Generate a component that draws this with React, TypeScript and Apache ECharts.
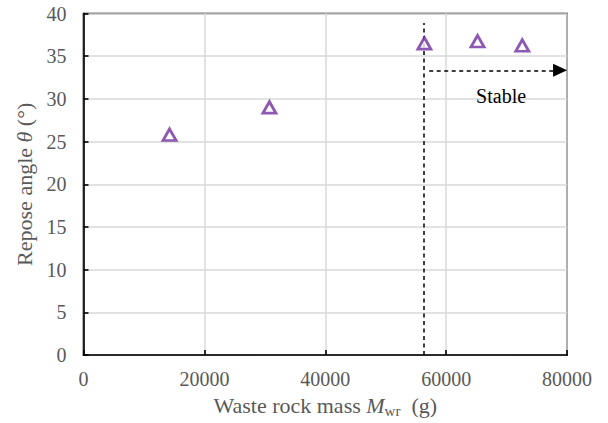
import React, { useEffect, useRef } from "react";
import * as echarts from "echarts";

// Waste rock mass (g) and the measured repose angle (°)
const massValues: number[] = [14240, 30760, 56400, 65200, 72600];
const angleValues: number[] = [25.8, 29.0, 36.5, 36.75, 36.25];

// Threshold mass where the pile becomes stable
const stableMass = 56300;
const stableArrowY = 33.35;
const stableLabel = "Stable";

const xTicks = { min: 0, max: 80000, interval: 20000 };
const yTicks = { min: 0, max: 40, interval: 5 };

const SERIF = "Times New Roman";
const TEXT_GRAY = "#595959";

export default function App() {
  const ref = useRef<HTMLDivElement>(null);

  useEffect(() => {
    if (!ref.current) return;
    const chart = echarts.init(ref.current, undefined, { renderer: "svg" });

    const points = massValues.map((m, i) => [m, angleValues[i]]);

    chart.setOption({
      animation: false,
      backgroundColor: "#fff",
      textStyle: { fontFamily: SERIF },
      grid: {
        left: 83.5,
        right: 41,
        top: 13.5,
        bottom: 67,
        show: true,
        borderColor: "#000",
        borderWidth: 1.6,
        containLabel: false,
      },
      xAxis: {
        type: "value",
        min: xTicks.min,
        max: xTicks.max,
        interval: xTicks.interval,
        name: "{t|Waste rock mass }{i|M}{s|wr}{t|  (g)}",
        nameLocation: "middle",
        nameGap: 36,
        nameTextStyle: {
          fontFamily: SERIF,
          rich: {
            t: { fontFamily: SERIF, fontSize: 22, color: TEXT_GRAY, lineHeight: 26 },
            i: { fontFamily: SERIF, fontSize: 22, color: TEXT_GRAY, fontStyle: "italic", lineHeight: 26 },
            s: { fontFamily: SERIF, fontSize: 15, color: TEXT_GRAY, verticalAlign: "bottom", lineHeight: 19 },
          },
        },
        axisLine: { show: true, lineStyle: { color: "#000", width: 1.6 } },
        axisTick: { show: true, inside: true, length: 5, lineStyle: { color: "#000", width: 1.6 } },
        axisLabel: {
          fontFamily: SERIF,
          fontSize: 20,
          color: TEXT_GRAY,
          margin: 14,
          formatter: (v: number) => String(v),
        },
        splitLine: { show: true, lineStyle: { color: "#d9d9d9", width: 1.5 } },
      },
      yAxis: {
        type: "value",
        min: yTicks.min,
        max: yTicks.max,
        interval: yTicks.interval,
        name: "{t|Repose angle }{i|θ}{t| (°)}",
        nameLocation: "middle",
        nameGap: 46,
        nameRotate: 90,
        nameTextStyle: {
          fontFamily: SERIF,
          rich: {
            t: { fontFamily: SERIF, fontSize: 22, color: TEXT_GRAY },
            i: { fontFamily: SERIF, fontSize: 22, color: TEXT_GRAY, fontStyle: "italic" },
          },
        },
        axisLine: { show: true, lineStyle: { color: "#000", width: 1.6 } },
        axisTick: { show: true, inside: true, length: 5, lineStyle: { color: "#000", width: 1.6 } },
        axisLabel: {
          fontFamily: SERIF,
          fontSize: 20,
          color: TEXT_GRAY,
          margin: 17,
          formatter: (v: number) => String(v),
        },
        splitLine: { show: true, lineStyle: { color: "#d9d9d9", width: 1.5 } },
      },
      series: [
        {
          type: "scatter",
          data: points,
          symbol: "triangle",
          symbolSize: [13, 11.5],
          itemStyle: { color: "#fff", borderColor: "#7030A0", borderWidth: 2.8 },
          z: 5,
          markLine: {
            silent: true,
            animation: false,
            label: { show: false },
            lineStyle: { color: "#000", type: [4, 3.5], width: 1.5 },
            data: [
              [
                { coord: [stableMass, 0], symbol: "none" },
                { coord: [stableMass, 38.9], symbol: "none" },
              ],
              [
                { coord: [57200, stableArrowY], symbol: "none" },
                { coord: [78850, stableArrowY], symbol: "triangle", symbolSize: [13, 14] },
              ],
            ],
            itemStyle: { color: "#000" },
          },
          markPoint: {
            silent: true,
            symbol: "circle",
            symbolSize: 0,
            data: [
              {
                coord: [69100, 30.3],
                label: {
                  show: true,
                  formatter: stableLabel,
                  position: "inside",
                  fontFamily: SERIF,
                  fontSize: 20,
                  color: "#000",
                },
              },
            ],
          },
        },
      ],
    });

    return () => chart.dispose();
  }, []);

  return <div ref={ref} style={{ width: 608, height: 423, position: "absolute", left: 0, top: 0 }} />;
}
